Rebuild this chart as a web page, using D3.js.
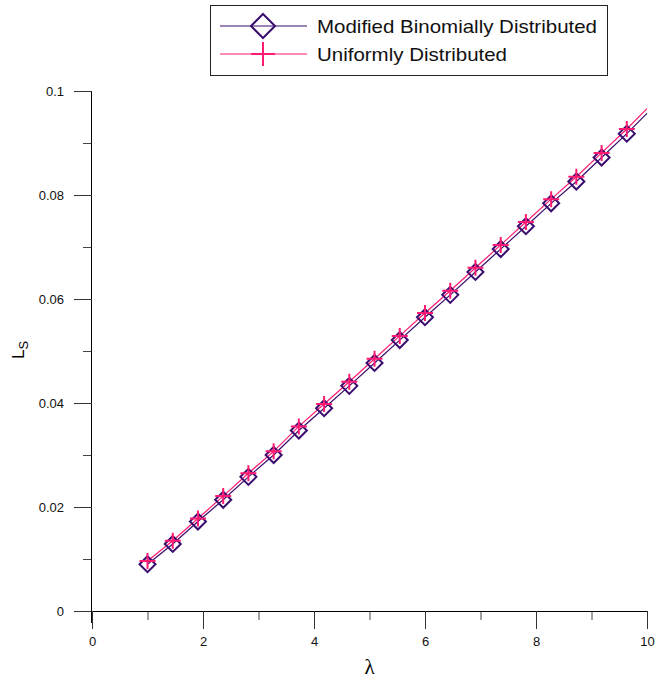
<!DOCTYPE html>
<html>
<head>
<meta charset="utf-8">
<script src="https://cdn.jsdelivr.net/npm/d3@7"></script>
<style>
  body { margin: 0; background: #fff; }
  svg { display: block; font-family: "Liberation Sans", Arial, sans-serif; }
</style>
</head>
<body>
<div id="chart"></div>
<script>
// lambda values (markers are drawn on the first 20, the line runs on to 10)
var lambdas = [1.000, 1.455, 1.909, 2.364, 2.818, 3.273, 3.727, 4.182, 4.636, 5.091,
               5.545, 6.000, 6.455, 6.909, 7.364, 7.818, 8.273, 8.727, 9.182, 9.636, 10.000];
var binomial = [0.0090, 0.0129, 0.0172, 0.0214, 0.0258, 0.0300, 0.0347, 0.0390, 0.0433, 0.0477,
                0.0521, 0.0565, 0.0608, 0.0652, 0.0696, 0.0740, 0.0784, 0.0826, 0.0872, 0.0918, 0.0957];
var uniform  = [0.0096, 0.0135, 0.0178, 0.0221, 0.0265, 0.0307, 0.0355, 0.0398, 0.0441, 0.0485,
                0.0529, 0.0573, 0.0616, 0.0660, 0.0704, 0.0748, 0.0792, 0.0835, 0.0881, 0.0927, 0.0966];
var markerCount = 20;

var xTicks = [0, 2, 4, 6, 8, 10];
var yTicks = [0, 0.02, 0.04, 0.06, 0.08, 0.1];
var legendNames = ["Modified Binomially Distributed", "Uniformly Distributed"];
var legendWidths = [280, 190];

var width = 657, height = 683;
var purple = "#3a0c6e", pink = "#ff1a72";

var svg = d3.select("#chart").append("svg")
  .attr("width", width)
  .attr("height", height);

var x = d3.scaleLinear().domain([0, 10]).range([92, 647]);
var y = d3.scaleLinear().domain([0, 0.1]).range([611, 91]);

// minor ticks
svg.append("g")
  .attr("transform", "translate(0,611)")
  .call(d3.axisBottom(x).tickValues(d3.range(1, 10, 2)).tickSize(9).tickFormat(""))
  .call(function (g) { g.select(".domain").remove(); g.selectAll("line").attr("stroke", "#444"); });
svg.append("g")
  .attr("transform", "translate(92,0)")
  .call(d3.axisLeft(y).tickValues(d3.range(0.01, 0.1, 0.02)).tickSize(9).tickFormat(""))
  .call(function (g) { g.select(".domain").remove(); g.selectAll("line").attr("stroke", "#444"); });

// major axes
var xAxis = svg.append("g")
  .attr("transform", "translate(0,611)")
  .call(d3.axisBottom(x).tickValues(xTicks).tickSize(18).tickSizeOuter(0).tickPadding(8).tickFormat(d3.format("d")));
var yAxis = svg.append("g")
  .attr("transform", "translate(92,0)")
  .call(d3.axisLeft(y).tickValues(yTicks).tickSize(18).tickSizeOuter(0).tickPadding(10)
    .tickFormat(function (d) { return d === 0 ? "0" : String(+d.toFixed(2)); }));

[xAxis, yAxis].forEach(function (g) {
  g.selectAll("text").attr("font-size", 13).attr("fill", "#111")
    .attr("font-family", "Liberation Sans, Arial, sans-serif");
  g.selectAll("line").attr("stroke", "#333");
  g.select(".domain").attr("stroke", "#000");
});
xAxis.select(".domain").attr("d", "M80,0.5H647");
yAxis.select(".domain").attr("d", "M-0.5,91V623");

// axis titles
svg.append("text")
  .attr("x", x(5)).attr("y", 674)
  .attr("text-anchor", "middle")
  .attr("font-family", "Liberation Serif, serif")
  .attr("font-size", 21)
  .text("λ");

var yl = svg.append("text")
  .attr("transform", "translate(24,350) rotate(-90)")
  .attr("text-anchor", "middle")
  .attr("font-size", 17);
yl.append("tspan").text("L");
yl.append("tspan").attr("font-size", 13).attr("dy", 4).text("S");

var rows = lambdas.map(function (l, i) { return { l: l, b: binomial[i], u: uniform[i] }; });

var line = function (key) {
  return d3.line().x(function (d) { return x(d.l); }).y(function (d) { return y(d[key]); });
};

svg.append("path").datum(rows).attr("fill", "none").attr("stroke", purple).attr("stroke-width", 1.2).attr("d", line("b"));
svg.append("path").datum(rows).attr("fill", "none").attr("stroke", pink).attr("stroke-width", 1.2).attr("d", line("u"));

var markRows = rows.slice(0, markerCount);

function diamond(sel, s) {
  sel.attr("d", "M0," + (-s) + "L" + s + ",0L0," + s + "L" + (-s) + ",0Z")
    .attr("fill", "none").attr("stroke", purple).attr("stroke-width", 2);
}
function cross(sel, s) {
  sel.attr("d", "M" + (-s) + ",0H" + s + "M0," + (-s) + "V" + s)
    .attr("fill", "none").attr("stroke", pink).attr("stroke-width", 2);
}

svg.append("g").selectAll("path").data(markRows).enter().append("path")
  .attr("transform", function (d) { return "translate(" + x(d.l) + "," + y(d.b) + ")"; })
  .call(diamond, 8);
svg.append("g").selectAll("path").data(markRows).enter().append("path")
  .attr("transform", function (d) { return "translate(" + x(d.l) + "," + y(d.u) + ")"; })
  .call(cross, 8);

// legend
var lg = svg.append("g");
lg.append("rect").attr("x", 210.5).attr("y", 5.5).attr("width", 397).attr("height", 70)
  .attr("fill", "#fff").attr("stroke", "#222").attr("stroke-width", 1);
legendNames.forEach(function (name, i) {
  var cy = 26 + i * 28;
  var col = i === 0 ? purple : pink;
  lg.append("line").attr("x1", 220).attr("x2", 307).attr("y1", cy).attr("y2", cy)
    .attr("stroke", col).attr("stroke-width", 1.2);
  lg.append("path").attr("transform", "translate(263," + cy + ")").call(i === 0 ? diamond : cross, 12);
  lg.append("text").attr("x", 317).attr("y", cy + 6.5).attr("font-size", 18.5).attr("fill", "#111")
    .attr("textLength", legendWidths[i]).attr("lengthAdjust", "spacingAndGlyphs").text(name);
});
</script>
</body>
</html>
